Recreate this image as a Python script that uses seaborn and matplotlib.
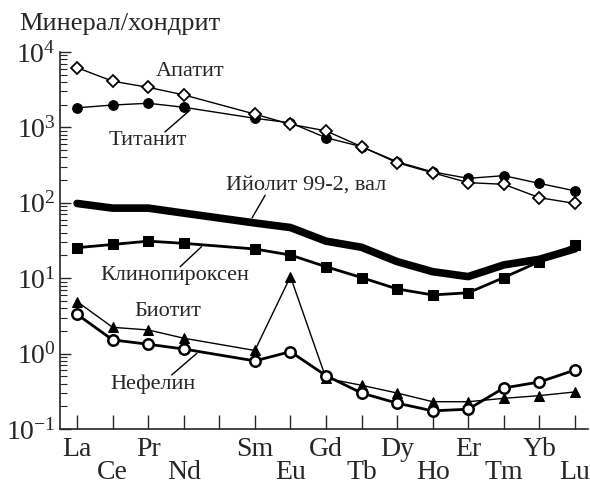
import pandas as pd
import seaborn as sns
import matplotlib.pyplot as plt
import numpy as np

# lanthanide series, Pm has no data but keeps its slot on the axis
lanthanides = ['La', 'Ce', 'Pr', 'Nd', 'Pm', 'Sm', 'Eu', 'Gd', 'Tb', 'Dy', 'Ho', 'Er', 'Tm', 'Yb', 'Lu']
elements = ['La', 'Ce', 'Pr', 'Nd', 'Sm', 'Eu', 'Gd', 'Tb', 'Dy', 'Ho', 'Er', 'Tm', 'Yb', 'Lu']
upper_row = ['La', 'Pr', 'Sm', 'Gd', 'Dy', 'Er', 'Yb']

apatite = [6200, 4100, 3400, 2700, 1500, 1100, 900, 555, 340, 250, 185, 176, 117, 98]
titanite = [1820, 1980, 2090, 1850, 1320, 1150, 730, 555, 350, 257, 211, 229, 181, 144]
ijolite = [98, 85, 85, 73, 54, 47, 31, 25.7, 16.6, 12.2, 10.5, 15, 17.8, 24.5]
clinopyroxene = [25.4, 28, 31, 29, 24.4, 20.3, 14.2, 10.2, 7.2, 6.0, 6.4, 10.2, 16.6, 27.5]
biotite = [4.9, 2.23, 2.06, 1.6, 1.1, 10.5, 0.47, 0.38, 0.30, 0.23, 0.23, 0.255, 0.277, 0.31]
nepheline = [3.32, 1.52, 1.33, 1.15, 0.80, 1.06, 0.51, 0.30, 0.22, 0.174, 0.183, 0.35, 0.42, 0.605]

sns.set_style('ticks')
plt.rcParams['font.family'] = ['Liberation Serif', 'DejaVu Serif']
plt.rcParams['mathtext.fontset'] = 'custom'
plt.rcParams['mathtext.rm'] = 'Liberation Serif'
plt.rcParams['mathtext.it'] = 'Liberation Serif:italic'

pos = [lanthanides.index(e) for e in elements]
df = pd.DataFrame({'pos': pos, 'apatite': apatite, 'titanite': titanite,
                   'ijolite': ijolite, 'cpx': clinopyroxene,
                   'biotite': biotite, 'nepheline': nepheline})

fig = plt.figure(figsize=(5.9, 4.86), dpi=100)
ax = fig.add_axes([0.1017, 0.1173, 0.895, 0.7757])

k = dict(x='pos', data=df, ax=ax, color='black', sort=False, legend=False)
sns.lineplot(y='ijolite', lw=5.5, **k)
sns.lineplot(y='cpx', lw=2, marker='s', ms=7, mec='black', **k)
sns.lineplot(y='titanite', lw=1, marker='o', ms=7, mec='black', **k)
sns.lineplot(y='apatite', lw=1, marker='D', ms=6.5, mfc='white', mec='black', mew=1.3, **k)
sns.lineplot(y='biotite', lw=1, marker='^', ms=7.5, mec='black', **k)
sns.lineplot(y='nepheline', lw=2, marker='o', ms=7.5, mfc='white', mec='black', mew=1.8, **k)

ax.set_yscale('log')
ax.set_ylim(0.1, 1e4)
ax.set_xlim(-0.48, 14.37)
ax.set_xlabel('')
ax.set_ylabel('')

labels = []
for e in lanthanides:
    if e == 'Pm':
        labels.append('')
    elif e in upper_row:
        labels.append(e)
    else:
        labels.append('\n' + e)
ax.set_xticks(range(len(lanthanides)))
ax.set_xticklabels(labels, fontsize=20, linespacing=0.88)
ax.set_yticks([0.1, 1, 10, 100, 1000, 10000])
ax.tick_params(axis='x', direction='in', length=10, width=1, pad=6)
ax.tick_params(axis='y', which='major', direction='in', length=8, width=1, labelsize=20, pad=3)
ax.tick_params(axis='y', which='minor', direction='in', length=5, width=0.8)
for s in ['top', 'right']:
    ax.spines[s].set_visible(False)
for s in ['left', 'bottom']:
    ax.spines[s].set_linewidth(1.2)

fig.text(0.032, 0.938, 'Минерал/хондрит', fontsize=19, va='baseline', ha='left')

# series labels
fs = 16
ax.text(3.18, 5430, 'Апатит', fontsize=fs, ha='center', va='center')
ax.text(2.0, 680, 'Титанит', fontsize=fs, ha='center', va='center')
ax.text(6.44, 172, 'Ийолит 99-2, вал', fontsize=fs, ha='center', va='center')
ax.text(2.76, 10.7, 'Клинопироксен', fontsize=fs, ha='center', va='center')
ax.text(2.56, 3.65, 'Биотит', fontsize=fs, ha='center', va='center')
ax.text(2.14, 0.39, 'Нефелин', fontsize=fs, ha='center', va='center')

# leader lines
leaders = [((2.47, 3.18), (870, 1700)),
           ((4.92, 5.29), (63, 126)),
           ((2.9, 3.5), (14.2, 26.2)),
           ((2.66, 3.37), (0.52, 1.01))]
for xs, ys in leaders:
    ax.plot(xs, ys, color='black', lw=1)

fig.savefig('out.png', dpi=100)
